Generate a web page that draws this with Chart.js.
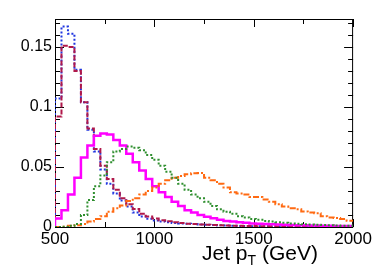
<!DOCTYPE html>
<html>
<head>
<meta charset="utf-8">
<script src="https://cdn.jsdelivr.net/npm/chart.js@4.4.1/dist/chart.umd.min.js"></script>
<style>
  html, body { margin: 0; padding: 0; background: #fff; }
  #wrap { width: 374px; height: 268px; }
</style>
</head>
<body>
<div id="wrap"><canvas id="c" width="374" height="268"></canvas></div>
<script>
// histogram binning: 46 bins between 500 and 2000 GeV
const xMin = 500;
const xMax = 2000;
const nBins = 46;

const xTickValues = [500, 1000, 1500, 2000];
const xTickLabels = ['500', '1000', '1500', '2000'];
const yTickValues = [0, 0.05, 0.1, 0.15];
const yTickLabels = ['0', '0.05', '0.1', '0.15'];

const blueVals = [0.107, 0.167, 0.161, 0.131, 0.104, 0.081, 0.063, 0.048, 0.036, 0.028,
    0.022, 0.017, 0.012, 0.0088, 0.0068, 0.0055, 0.0045, 0.004, 0.0033, 0.003,
    0.0027, 0.0024, 0.002, 0.0018, 0.0016, 0.0014, 0.0012, 0.001, 0.0009, 0.0008,
    0.0007, 0.0006, 0.0006, 0.0005, 0.0005, 0.0004, 0.0004, 0.0004, 0.0003, 0.0003,
    0.0003, 0.0003, 0.0002, 0.0002, 0.0002, 0.0002];
const redVals = [0.092, 0.151, 0.150, 0.130, 0.104, 0.082, 0.065, 0.051, 0.040, 0.031,
    0.024, 0.019, 0.015, 0.011, 0.0088, 0.007, 0.0057, 0.0047, 0.0039, 0.0033,
    0.0028, 0.0024, 0.0021, 0.0018, 0.0016, 0.0014, 0.0012, 0.0011, 0.001, 0.0009,
    0.0008, 0.0007, 0.0006, 0.0006, 0.0005, 0.0005, 0.0004, 0.0004, 0.0004, 0.0003,
    0.0003, 0.0003, 0.0003, 0.0002, 0.0002, 0.0002];
const magentaVals = [0.007, 0.014, 0.027, 0.041, 0.058, 0.068, 0.076, 0.078, 0.077, 0.0725,
    0.068, 0.061, 0.054, 0.047, 0.040, 0.034, 0.029, 0.025, 0.021, 0.0175,
    0.014, 0.012, 0.010, 0.0086, 0.0072, 0.006, 0.005, 0.0045, 0.004, 0.0035,
    0.003, 0.0028, 0.0025, 0.0022, 0.002, 0.0018, 0.0016, 0.0015, 0.0014, 0.0013,
    0.0012, 0.0011, 0.001, 0.0009, 0.0008, 0.0008];
const greenVals = [0, 0.0003, 0.001, 0.0025, 0.010, 0.0225, 0.034, 0.043, 0.054, 0.063,
    0.065, 0.067, 0.066, 0.064, 0.060, 0.056, 0.051, 0.046, 0.041, 0.036,
    0.031, 0.027, 0.024, 0.021, 0.0175, 0.0147, 0.0128, 0.011, 0.009, 0.008,
    0.0067, 0.006, 0.005, 0.0045, 0.004, 0.0035, 0.003, 0.0027, 0.0023, 0.002,
    0.0018, 0.0016, 0.0014, 0.0012, 0.0011, 0.001];
const orangeVals = [0, 0.0003, 0.001, 0.0015, 0.0025, 0.0045, 0.0067, 0.009, 0.0128, 0.0156,
    0.018, 0.0217, 0.024, 0.027, 0.030, 0.033, 0.036, 0.039, 0.041, 0.0425,
    0.044, 0.0447, 0.045, 0.041, 0.039, 0.036, 0.033, 0.029, 0.028, 0.027,
    0.025, 0.025, 0.023, 0.021, 0.019, 0.017, 0.0156, 0.0147, 0.013, 0.012,
    0.0114, 0.009, 0.008, 0.0075, 0.0067, 0.0053];

// turn bin contents into step points (left edge of each bin + closing point)
function histPoints(vals) {
    const w = (xMax - xMin) / nBins;
    let pts = [{x: xMin, y: 0}];
    for (let i = 0; i < vals.length; i++) {
        pts.push({x: xMin + i * w, y: vals[i]});
    }
    pts.push({x: xMax, y: vals[vals.length - 1]});
    return pts;
}

function histDataset(vals, color, width, dash) {
    return {
        data: histPoints(vals),
        borderColor: color,
        borderWidth: width,
        borderDash: dash,
        stepped: true,
        pointRadius: 0,
        fill: false,
        tension: 0
    };
}

// ROOT style frame with inward ticks on all four sides
const rootFrame = {
    id: 'rootFrame',
    beforeDatasetsDraw(chart) {
        const {ctx, chartArea: a, scales: {x, y}} = chart;
        ctx.save();
        ctx.strokeStyle = '#000';
        ctx.lineWidth = 1;
        ctx.strokeRect(a.left + 0.5, a.top + 0.5, a.right - a.left - 1, a.bottom - a.top);
        ctx.beginPath();
        for (let v = xMin; v <= xMax; v += 250) {
            const px = Math.round(x.getPixelForValue(v)) + 0.5;
            const len = (v % 500 === 0) ? 8 : 5;
            ctx.moveTo(px, a.bottom); ctx.lineTo(px, a.bottom - len);
            ctx.moveTo(px, a.top); ctx.lineTo(px, a.top + len);
        }
        for (let k = 0; k <= 17; k++) {
            const v = k * 0.01;
            const py = Math.round(y.getPixelForValue(v)) + 0.5;
            const len = (k % 5 === 0) ? 9 : 5;
            ctx.moveTo(a.left, py); ctx.lineTo(a.left + len, py);
            ctx.moveTo(a.right, py); ctx.lineTo(a.right - len, py);
        }
        ctx.stroke();
        ctx.restore();
    },
    afterDraw(chart) {
        // axis title with subscript, right part of the x axis like ROOT
        const {ctx} = chart;
        ctx.save();
        ctx.fillStyle = '#000';
        ctx.textBaseline = 'alphabetic';
        ctx.font = '21px "Liberation Sans", Arial, sans-serif';
        let px = 202, base = 260;
        ctx.fillText('Jet p', px, base);
        px += ctx.measureText('Jet p').width;
        ctx.font = '14px "Liberation Sans", Arial, sans-serif';
        ctx.fillText('T', px, base + 5);
        px += ctx.measureText('T').width;
        ctx.font = '21px "Liberation Sans", Arial, sans-serif';
        ctx.fillText(' (GeV)', px, base);
        ctx.restore();
    }
};

const config = {
    type: 'line',
    data: {
        datasets: [
            histDataset(greenVals, '#2f8f2f', 2, [2, 2]),
            histDataset(orangeVals, '#ff6a12', 2, [6, 2, 2, 2]),
            histDataset(magentaVals, '#ff00ff', 2.5, []),
            histDataset(redVals, '#b0184a', 2, [5, 2]),
            histDataset(blueVals, '#2036e0', 2, [2, 2])
        ]
    },
    options: {
        responsive: false,
        animation: false,
        layout: { padding: { top: 19, right: 19, left: 0, bottom: 0 } },
        plugins: { legend: { display: false }, tooltip: { enabled: false } },
        scales: {
            x: {
                type: 'linear',
                min: xMin,
                max: xMax,
                afterBuildTicks: (s) => { s.ticks = xTickValues.map(v => ({value: v})); },
                afterFit: (s) => { s.height = 41; },
                grid: { display: false, drawTicks: false },
                border: { display: false },
                ticks: {
                    padding: 2,
                    maxRotation: 0,
                    autoSkip: false,
                    color: '#000',
                    font: { family: '"Liberation Sans", Arial, sans-serif', size: 17 },
                    callback: (v) => xTickLabels[xTickValues.indexOf(v)]
                }
            },
            y: {
                min: 0,
                max: 0.17333,
                afterBuildTicks: (s) => { s.ticks = yTickValues.map(v => ({value: v})); },
                afterFit: (s) => { s.width = 55; },
                grid: { display: false, drawTicks: false },
                border: { display: false },
                ticks: {
                    padding: 3,
                    autoSkip: false,
                    color: '#000',
                    font: { family: '"Liberation Sans", Arial, sans-serif', size: 16 },
                    callback: (v) => yTickLabels[yTickValues.indexOf(v)]
                }
            }
        }
    },
    plugins: [rootFrame]
};

new Chart(document.getElementById('c'), config);
</script>
</body>
</html>
